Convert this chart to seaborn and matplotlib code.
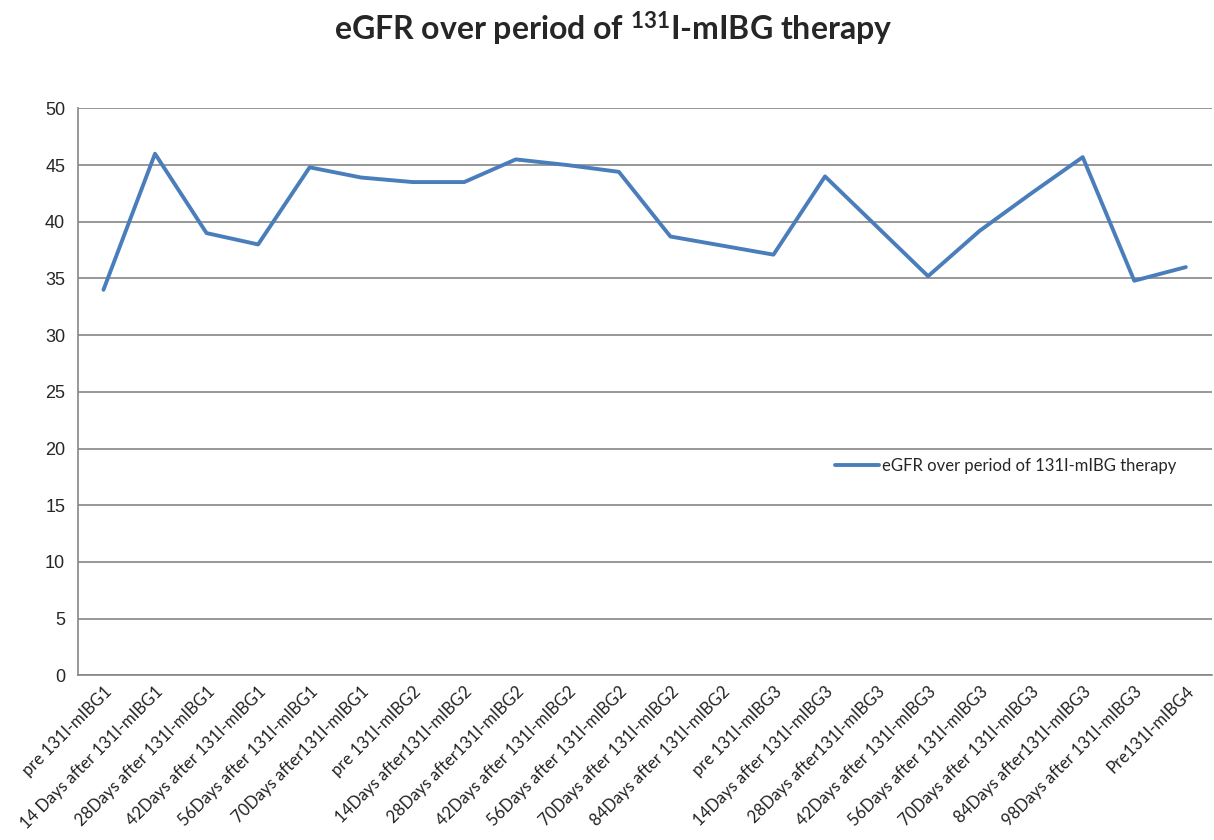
import matplotlib
matplotlib.use("Agg")
import matplotlib.pyplot as plt
import numpy as np
import pandas as pd
import seaborn as sns

# Data
labels = [
    "pre 131I-mIBG1",
    "14 Days after 131I-mIBG1",
    "28Days after 131I-mIBG1",
    "42Days after 131I-mIBG1",
    "56Days after 131I-mIBG1",
    "70Days after131I-mIBG1",
    "pre 131I-mIBG2",
    "14Days after131I-mIBG2",
    "28Days after131I-mIBG2",
    "42Days after 131I-mIBG2",
    "56Days after 131I-mIBG2",
    "70Days after 131I-mIBG2",
    "84Days after 131I-mIBG2",
    "pre 131I-mIBG3",
    "14Days after 131I-mIBG3",
    "28Days after131I-mIBG3",
    "42Days after 131I-mIBG3",
    "56Days after 131I-mIBG3",
    "70Days after 131I-mIBG3",
    "84Days after131I-mIBG3",
    "98Days after 131I-mIBG3",
    "Pre131I-mIBG4",
]
egfr = [34.0, 46.0, 39.0, 38.0, 44.8, 43.9, 43.5, 43.5, 45.5, 45.0, 44.4,
        38.7, 37.9, 37.1, 44.0, 39.6, 35.2, 39.2, 42.5, 45.7, 34.8, 36.0]

df = pd.DataFrame({"pos": np.arange(len(labels)), "eGFR": egfr})

sns.set_style("white")
plt.rcParams['font.family'] = ['Lato', 'DejaVu Sans']
plt.rcParams['mathtext.default'] = 'regular'

fig = plt.figure(figsize=(12.14, 8.4), dpi=100)
ax = fig.add_axes([0.064, 0.196, 0.934, 0.675])

sns.lineplot(data=df, x="pos", y="eGFR", ax=ax, color="#4A7EBB", linewidth=2.8,
             label="eGFR over period of 131I-mIBG therapy")

ax.set_xlim(-0.5, len(labels) - 0.5)
ax.set_ylim(0, 50)
ax.set_yticks(np.arange(0, 51, 5))
ax.set_yticklabels([str(v) for v in range(0, 51, 5)], fontsize=13,
                   family='Liberation Sans')
ax.set_xticks(np.arange(len(labels)))
ax.set_xticklabels(labels, rotation=45, ha='right', rotation_mode='anchor',
                   fontsize=12, color='#222222')
ax.set_xticks(np.arange(-0.5, len(labels), 1), minor=True)
ax.tick_params(axis='x', which='major', length=0, pad=6)
ax.tick_params(axis='x', which='minor', length=5, color='#868686', width=1.2)
ax.tick_params(axis='y', length=5, color='#868686', width=1.2, pad=4)
ax.set_xlabel("")
ax.set_ylabel("")

ax.yaxis.grid(True, color='#868686', linewidth=1.2)
ax.set_axisbelow(True)
for s in ['top', 'right']:
    ax.spines[s].set_visible(False)
for s in ['left', 'bottom']:
    ax.spines[s].set_color('#868686')
    ax.spines[s].set_linewidth(1.2)

leg = ax.legend(loc='center left', bbox_to_anchor=(0.655, 0.369), frameon=False,
                fontsize=12, handlelength=2.6, handletextpad=0.2)

fig.text(0.505, 0.965, "eGFR over period of $^{131}$I-mIBG therapy",
         ha='center', va='center', fontsize=23, fontweight='bold')

fig.savefig("out.png", dpi=100)
